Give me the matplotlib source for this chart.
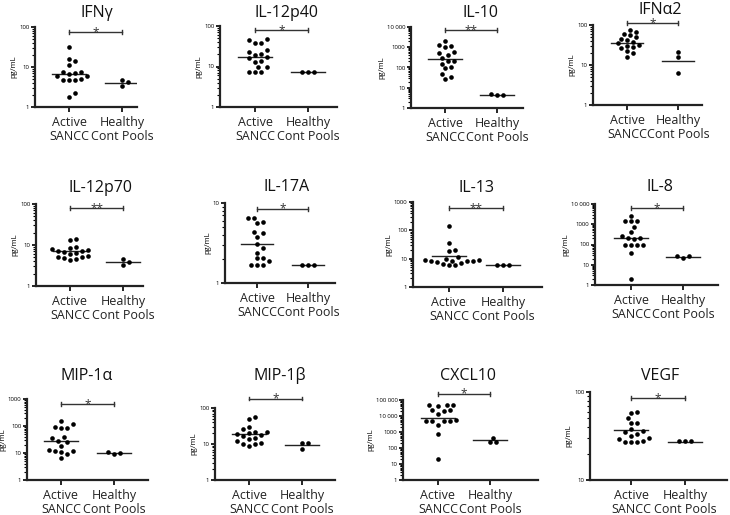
import numpy as np
import matplotlib
matplotlib.use("Agg")
import matplotlib.pyplot as plt
from matplotlib.ticker import LogLocator, FuncFormatter, NullFormatter
from matplotlib.transforms import blended_transform_factory

plt.rcParams['font.family'] = ['Open Sans', 'DejaVu Sans']

titles = ["IFNγ", "IL-12p40", "IL-10", "IFNα2",
          "IL-12p70", "IL-17A", "IL-13", "IL-8",
          "MIP-1α", "MIP-1β", "CXCL10", "VEGF"]
groups = ["Active\nSANCC", "Healthy\nCont Pools"]
stars = ["*", "*", "**", "*", "**", "*", "**", "*", "*", "*", "*", "*"]

active = [
    [32, 16, 14, 11.5, 7.6, 7.6, 7, 6.7, 6, 5.8, 5, 4.8, 4.8, 4.8, 2.3, 1.8],
    [48, 45, 38, 37, 25, 23, 20, 19, 17, 16, 14, 13, 10, 9.5, 7.5, 7.5, 7.5],
    [2000, 1300, 1100, 1000, 600, 500, 400, 300, 200, 200, 150, 100, 90, 50, 35, 28],
    [75, 68, 60, 55, 50, 45, 42, 38, 35, 32, 30, 28, 26, 22, 20, 16],
    [14, 13.5, 9, 8.5, 8, 7.5, 7, 7, 6.8, 6.5, 6, 5.5, 5, 5, 4.8, 4.5, 4.2],
    [6.5, 6.5, 5.8, 5.6, 4.4, 4.2, 3.8, 3.1, 2.7, 2.4, 2.05, 2.05, 1.87, 1.7, 1.7, 1.7],
    [147, 35, 20, 19, 11, 10, 9, 9, 8.5, 8.5, 8, 8, 7.5, 7, 6.5, 6, 6],
    [2600, 1500, 1400, 1400, 700, 400, 250, 220, 200, 180, 100, 100, 100, 100, 40, 2],
    [150, 120, 88, 85, 85, 40, 35, 28, 25, 18, 13, 12, 12, 11, 9, 6.5],
    [55, 50, 30, 26, 21, 21, 20, 19, 18, 17, 15, 14, 12, 11, 10, 10, 9],
    [48000, 45000, 47000, 46000, 24000, 22000, 23000, 13000, 5200, 5000, 5300, 4800,
     5100, 2900, 700, 20],
    [60, 57, 50, 45, 44, 38, 36, 35, 33, 32, 30, 29, 28, 27, 27, 27],
]
healthy = [
    [4.6, 4.1, 3.4], [7.5, 7.5, 7.5], [5, 4.5, 4.5], [21, 15.5, 6.2],
    [4.5, 3.8, 3.2], [1.7, 1.7, 1.7], [6.2, 6, 6], [27, 22, 26],
    [10.5, 9, 10], [11, 10.6, 7.2], [440, 235, 235], [28, 27.5, 27.5],
]
active_med = [6.7, 17, 270, 36, 7, 3.1, 12.4, 200, 28, 18.8, 7500, 37]
healthy_med = [3.9, 7.5, 4.6, 12.6, 3.8, 1.7, 6.1, 23, 9.8, 9.4, 300, 27]
ylims = [(1, 100), (1, 100), (1, 1e4), (1, 100), (1, 100), (1, 10),
         (1, 1000), (1, 1e4), (1, 1000), (1, 100), (1, 1e5), (10, 100)]

# pixel layout: axes left, top, right, bottom, category 0 x, category 1 x
layout = [
    (35, 27, 137, 107, 69, 122), (220, 26, 337, 107, 255, 308),
    (411, 27, 523, 108, 445, 497), (593, 25, 702, 105, 627, 678),
    (36, 204, 143, 286, 70, 123), (225, 203, 335, 283, 257, 308),
    (413, 202, 542, 287, 449, 503), (595, 204, 718, 285, 631, 683),
    (27, 399, 148, 480, 61, 114), (215, 408, 335, 480, 249, 302),
    (403, 400, 538, 480, 438, 490), (590, 392, 727, 480, 631, 685),
]
title_pos = [(97, 17), (287, 17), (480, 17), (660, 14),
             (100, 192), (287, 191), (477, 192), (660, 191),
             (87, 380), (280, 380), (468, 380), (660, 380)]
bar_y = [0.94, 0.95, 0.96, 1.02, 0.95, 0.93, 0.93, 0.95, 0.94, 1.13, 1.08, 0.93]

W, H = 730, 515
fig = plt.figure(figsize=(W / 100, H / 100), dpi=100)


def fmt(v, pos):
    if v >= 10000:
        return f"{int(round(v)):,}".replace(",", " ")
    return str(int(round(v)))


def swarm_x(ax, xc, vals, d=5.5):
    # simple deterministic beeswarm in display space
    vals = np.asarray(vals, float)
    pts = ax.transData.transform(np.column_stack([np.full(len(vals), xc), vals]))
    out = np.zeros(len(vals))
    placed = []
    cands = [0.0]
    for k in range(1, 12):
        cands += [k * d * 0.55, -k * d * 0.55]
    for i in np.argsort(vals):
        y = pts[i, 1]
        for off in cands:
            x = pts[i, 0] + off
            if all((x - px) ** 2 + (y - py) ** 2 >= (d * 0.95) ** 2 for px, py in placed):
                break
        placed.append((x, y))
        out[i] = ax.transData.inverted().transform((x, y))[0]
    return out


for i in range(12):
    l, t, r, b, c0, c1 = layout[i]
    ax = fig.add_axes([l / W, 1 - b / H, (r - l) / W, (b - t) / H])
    span = c1 - c0
    ax.set_xlim((l - c0) / span, (r - c0) / span)
    ax.set_yscale("log")
    ax.set_ylim(*ylims[i])

    for sp in ["top", "right"]:
        ax.spines[sp].set_visible(False)
    for sp in ["left", "bottom"]:
        ax.spines[sp].set_linewidth(1.6)
        ax.spines[sp].set_color("#222222")

    ax.yaxis.set_major_locator(LogLocator(base=10))
    ax.yaxis.set_minor_locator(LogLocator(base=10, subs=np.arange(2, 10)))
    ax.yaxis.set_major_formatter(FuncFormatter(fmt))
    ax.yaxis.set_minor_formatter(NullFormatter())
    ax.tick_params(axis="y", which="major", length=3, width=1.2, labelsize=4.3, pad=1)
    ax.tick_params(axis="y", which="minor", length=2, width=0.8)
    ax.set_xticks([0, 1])
    ax.set_xticklabels(groups, fontsize=9, color="#222222", linespacing=1.05)
    ax.tick_params(axis="x", length=3.5, width=1.2, pad=3)
    ax.set_ylabel("pg/mL", fontsize=5.5, labelpad=1)

    for xc, vals, med in [(0, active[i], active_med[i]), (1, healthy[i], healthy_med[i])]:
        xs = swarm_x(ax, xc, vals)
        ax.scatter(xs, vals, s=11, color="black", zorder=3, linewidths=0, clip_on=False)
        ax.plot([xc - 0.32, xc + 0.32], [med, med], color="#222222", lw=1.0, zorder=2)

    tr = blended_transform_factory(ax.transData, ax.transAxes)
    yb = bar_y[i]
    ax.plot([0, 1], [yb, yb], color="#333333", lw=1.0, transform=tr, clip_on=False)
    for xe in (0, 1):
        ax.plot([xe, xe], [yb - 0.025, yb + 0.025], color="#333333", lw=1.0,
                transform=tr, clip_on=False)
    ax.text(0.5, yb - 0.05, stars[i], transform=tr, ha="center", va="baseline",
            fontsize=8.5, color="#333333")

    tx, ty = title_pos[i]
    fig.text(tx / W, 1 - ty / H, titles[i], ha="center", va="baseline",
             fontsize=11.5, color="#111111")

fig.savefig("out.png", dpi=100)
